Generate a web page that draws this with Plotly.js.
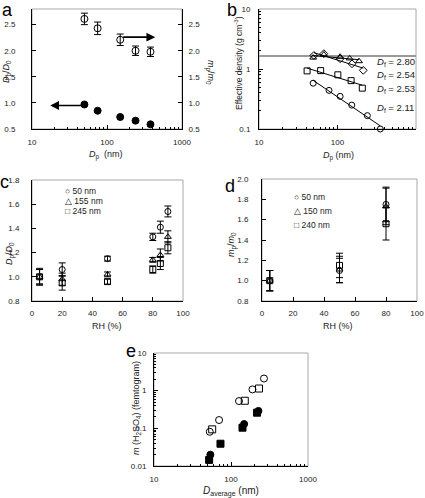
<!DOCTYPE html>
<html>
<head>
<meta charset="utf-8">
<script src="https://cdn.plot.ly/plotly-3.0.1.min.js"></script>
<style>
html,body{margin:0;padding:0;background:#fff;}
#chart{width:425px;height:498px;}
</style>
</head>
<body>
<div id="chart"></div>
<script>
// ---------- Panel a ----------
const aDp = [50, 75, 150, 240, 380];
const aDiamRatio = [0.97, 0.85, 0.73, 0.66, 0.59];
const aMassRatio = [2.61, 2.43, 2.21, 2.00, 1.98];
const aMassErr = [0.11, 0.12, 0.11, 0.09, 0.09];

// ---------- Panel b ----------
const bCircX = [49, 78, 108, 152, 240, 351];
const bCircY = [0.58, 0.44, 0.35, 0.25, 0.167, 0.10];
const bSqX = [41, 61, 101, 149, 207];
const bSqY = [0.93, 0.94, 0.80, 0.64, 0.48];
const bDiaX = [50, 67, 108, 153, 213];
const bDiaY = [1.68, 1.80, 1.48, 1.22, 0.95];
const bTriX = [49, 67, 108, 143, 188];
const bTriY = [1.55, 1.74, 1.60, 1.50, 1.35];
const bBulkDensity = 1.65;
const bDfLabels = ['2.80', '2.54', '2.53', '2.11'];

// ---------- Panel c ----------
const cRH = [5, 20, 50, 80, 85, 90];
const c50 = [1.00, 1.06, 1.15, 1.33, 1.41, 1.54];
const c50Err = [0.07, 0.055, 0.02, 0.03, 0.05, 0.045];
const c155 = [1.00, 0.98, 1.02, 1.14, 1.18, 1.33];
const c155Err = [0.06, 0.05, 0.02, 0.02, 0.05, 0.05];
const c245 = [1.00, 0.95, 0.96, 1.06, 1.11, 1.24];
const c245Err = [0.06, 0.06, 0.02, 0.03, 0.05, 0.05];
const cLegend = ['50 nm', '155 nm', '245 nm'];

// ---------- Panel d ----------
const dRH = [5, 50, 80];
const d50 = [1.00, 1.10, 1.75];
const d50Err = [0.10, 0.12, 0.17];
const d150 = [1.00, 1.11, 1.73];
const d150Err = [0.10, 0.13, 0.18];
const d240 = [1.00, 1.15, 1.56];
const d240Err = [0.10, 0.12, 0.16];
const dLegend = ['50 nm', '150 nm', '240 nm'];

// ---------- Panel e ----------
const eOpenCircX = [53, 70, 127, 190, 268];
const eOpenCircY = [0.081, 0.166, 0.53, 1.08, 2.10];
const eOpenSqX = [57, 151, 231];
const eOpenSqY = [0.094, 0.54, 1.14];
const eFillCircX = [54, 148, 227];
const eFillCircY = [0.020, 0.13, 0.29];
const eFillSqX = [52, 73, 141, 218];
const eFillSqY = [0.0145, 0.039, 0.104, 0.26];

// ---------- helpers ----------
const W = 425, H = 498;
const px = v => v / W;
const py = v => 1 - v / H;
const FONT = 'Liberation Sans, Arial, Helvetica, sans-serif';

function mk(x, y, xa, ya, symbol, size, err) {
  const t = {
    x: x, y: y, xaxis: xa, yaxis: ya, type: 'scatter', mode: 'markers',
    showlegend: false, cliponaxis: false,
    marker: {symbol: symbol, size: size, color: '#000', line: {color: '#000', width: 1}}
  };
  if (err) t.error_y = {type: 'data', array: err, color: '#000', thickness: 1, width: 3.5};
  return t;
}

function fitLine(xs, ys, xa, ya) {
  const lx = xs.map(Math.log10), ly = ys.map(Math.log10);
  const n = lx.length;
  const mx = lx.reduce((a, b) => a + b, 0) / n, my = ly.reduce((a, b) => a + b, 0) / n;
  let sxy = 0, sxx = 0;
  for (let i = 0; i < n; i++) { sxy += (lx[i] - mx) * (ly[i] - my); sxx += (lx[i] - mx) ** 2; }
  const s = sxy / sxx, c = my - s * mx;
  const x0 = Math.min(...xs), x1 = Math.max(...xs);
  return {
    x: [x0, x1], y: [Math.pow(10, c + s * Math.log10(x0)), Math.pow(10, c + s * Math.log10(x1))],
    xaxis: xa, yaxis: ya, type: 'scatter', mode: 'lines', showlegend: false,
    line: {color: '#000', width: 1}
  };
}

const traces = [
  // a
  mk(aDp, aDiamRatio, 'x', 'y', 'circle', 7),
  mk(aDp, aMassRatio, 'x', 'y2', 'circle-open', 7, aMassErr),
  // b
  fitLine(bCircX, bCircY, 'x2', 'y3'),
  fitLine(bSqX, bSqY, 'x2', 'y3'),
  fitLine(bDiaX, bDiaY, 'x2', 'y3'),
  fitLine(bTriX, bTriY, 'x2', 'y3'),
  mk(bCircX, bCircY, 'x2', 'y3', 'circle-open', 6),
  mk(bSqX, bSqY, 'x2', 'y3', 'square-open', 6),
  mk(bDiaX, bDiaY, 'x2', 'y3', 'diamond-open', 6),
  mk(bTriX, bTriY, 'x2', 'y3', 'triangle-up-open', 6),
  // c
  mk(cRH, c50, 'x3', 'y4', 'circle-open', 6, c50Err),
  mk(cRH, c155, 'x3', 'y4', 'triangle-up-open', 6, c155Err),
  mk(cRH, c245, 'x3', 'y4', 'square-open', 6, c245Err),
  // d
  mk(dRH, d50, 'x4', 'y5', 'circle-open', 6, d50Err),
  mk(dRH, d150, 'x4', 'y5', 'triangle-up-open', 6, d150Err),
  mk(dRH, d240, 'x4', 'y5', 'square-open', 6, d240Err),
  // e
  mk(eOpenCircX, eOpenCircY, 'x5', 'y6', 'circle-open', 7),
  mk(eOpenSqX, eOpenSqY, 'x5', 'y6', 'square-open', 7),
  mk(eFillCircX, eFillCircY, 'x5', 'y6', 'circle', 7),
  mk(eFillSqX, eFillSqY, 'x5', 'y6', 'square', 7)
];

function ax(extra) {
  return Object.assign({
    showline: true, linecolor: '#000', linewidth: 1, mirror: false,
    ticks: 'inside', ticklen: 4, tickcolor: '#000', tickwidth: 1,
    showgrid: false, zeroline: false, fixedrange: true,
    tickfont: {family: FONT, size: 8, color: '#222'}
  }, extra);
}
function minorVals(lo, hi) {
  const v = [];
  for (let k = lo; k < hi; k++) for (let d = 2; d <= 9; d++) v.push(d * Math.pow(10, k));
  return v;
}
const logMinor = (lo, hi) => ({tickmode: 'array', tickvals: minorVals(lo, hi), ticks: 'inside', ticklen: 2, tickcolor: '#000', showgrid: false});

const domA_y = [py(129), py(9)];
const domC_y = [py(301), py(180)];

const layout = {
  width: W, height: H,
  margin: {l: 0, r: 0, t: 0, b: 0},
  paper_bgcolor: '#fff', plot_bgcolor: '#fff',
  showlegend: false,
  font: {family: FONT, size: 9, color: '#222'},
  // a
  xaxis: ax({type: 'log', range: [1, 3], dtick: 1, domain: [px(32), px(182)], anchor: 'y', minor: logMinor(1, 3), ticklabelstandoff: 5}),
  yaxis: ax({range: [0.5, 2.8], dtick: 0.5, tickformat: '.1f', domain: domA_y, anchor: 'x', ticklabelstandoff: 14}),
  yaxis2: ax({range: [0.5, 2.8], dtick: 0.5, tickformat: '.1f', overlaying: 'y', side: 'right', anchor: 'x', ticklabelstandoff: 4}),
  // b
  xaxis2: ax({type: 'log', range: [1, 3], dtick: 1, domain: [px(259), px(416)], anchor: 'y3', minor: logMinor(1, 3), ticklabelstandoff: 5}),
  yaxis3: ax({type: 'log', range: [-1, 1], dtick: 1, domain: domA_y, anchor: 'x2', minor: logMinor(-1, 1), ticklabelstandoff: 6}),
  // c
  xaxis3: ax({range: [0, 100], dtick: 20, domain: [px(32), px(183)], anchor: 'y4', ticklabelstandoff: 4}),
  yaxis4: ax({range: [0.8, 1.8], dtick: 0.2, tickformat: '.1f', domain: domC_y, anchor: 'x3', ticklabelstandoff: 10}),
  // d
  xaxis4: ax({range: [0, 100], dtick: 20, domain: [px(262), px(417)], anchor: 'y5', ticklabelstandoff: 4}),
  yaxis5: ax({range: [0.8, 2.0], dtick: 0.2, tickformat: '.1f', domain: [py(301), py(179)], anchor: 'x4', ticklabelstandoff: 11}),
  // e
  xaxis5: ax({type: 'log', range: [1, 3], dtick: 1, domain: [px(154), px(308)], anchor: 'y6', minor: logMinor(1, 3), ticklabelstandoff: 5}),
  yaxis6: ax({type: 'log', range: [-2, 1], dtick: 1, domain: [py(466), py(353)], anchor: 'x5', minor: logMinor(-2, 1), ticklabelstandoff: 5}),
  shapes: [],
  annotations: []
};

// grey frame boxes
[['x', 'y'], ['x2', 'y3'], ['x3', 'y4'], ['x4', 'y5'], ['x5', 'y6']].forEach(([xa, ya]) => {
  layout.shapes.push({type: 'rect', xref: xa + ' domain', yref: ya + ' domain', x0: 0, x1: 1, y0: 0, y1: 1,
    line: {color: '#a8a8a8', width: 1}, layer: 'below'});
});
// bulk density line in b
layout.shapes.push({type: 'line', xref: 'x2 domain', yref: 'y3', x0: 0, x1: 1,
  y0: bBulkDensity, y1: bBulkDensity, line: {color: '#999', width: 2}, layer: 'below'});

function txt(text, x, y, opts) {
  layout.annotations.push(Object.assign({
    text: text, xref: 'paper', yref: 'paper', x: px(x), y: py(y),
    xanchor: 'center', yanchor: 'middle', showarrow: false,
    font: {family: FONT, size: 9, color: '#222'}
  }, opts || {}));
}

// panel letters
const letterFont = {family: FONT, size: 18, color: '#000'};
txt('a', 7, 10, {font: letterFont});
txt('b', 232, 10, {font: letterFont});
txt('c', 4.5, 182, {font: letterFont, borderpad: 0});
txt('d', 230, 186, {font: letterFont});
txt('e', 131, 351, {font: letterFont});

// axis titles
const DpD0 = '<i>D</i><sub>p</sub>/<i>D</i><sub>0</sub>';
const mpm0 = '<i>m</i><sub>p</sub>/<i>m</i><sub>0</sub>';
txt('<i>D</i><sub>p</sub>  (nm)', 106, 155);
txt(DpD0, 7, 72, {textangle: -90});
txt(mpm0, 210, 72, {textangle: 90});
txt('<i>D</i><sub>p</sub> (nm)', 338, 156);
txt('Effective density (g cm<sup>-3</sup>)', 238, 63, {textangle: -90, font: {family: FONT, size: 8.5, color: '#222'}});
txt(DpD0, 10, 254, {textangle: -90});
txt('RH (%)', 107, 326);
txt(mpm0, 232, 245, {textangle: -90});
txt('RH (%)', 338, 326);
txt('<i>m</i> (H<sub>2</sub>SO<sub>4</sub>) (femtogram)', 136, 408, {textangle: -90});
txt('<i>D</i><sub>average</sub> (nm)', 231, 491, {font: {family: FONT, size: 10, color: '#222'}});

// D_f labels in b
const dfY = [62, 75, 89, 108];
bDfLabels.forEach((v, i) => txt('<i>D</i><sub>f</sub> = ' + v, 375, dfY[i], {xanchor: 'left', font: {family: FONT, size: 9.5, color: '#222'}}));

// legends in c and d (glyph + label)
const glyphs = ['\u25CB', '\u25B3', '\u25A1'];
const cLegY = [191, 201, 211.5];
cLegend.forEach((s, i) => txt(glyphs[i] + ' ' + s, 63, cLegY[i], {xanchor: 'left', font: {family: FONT, size: 8.5, color: '#222'}}));
const dLegY = [197, 211, 225];
dLegend.forEach((s, i) => txt(glyphs[i] + ' ' + s, 292, dLegY[i], {xanchor: 'left', font: {family: FONT, size: 8.5, color: '#222'}}));

// arrows in a
layout.annotations.push({xref: 'x', yref: 'y2', axref: 'x', ayref: 'y2',
  x: Math.log10(440), y: 2.26, ax: Math.log10(157), ay: 2.26, text: '', showarrow: true,
  arrowhead: 2, arrowsize: 1.1, arrowwidth: 1.6, arrowcolor: '#000'});
layout.annotations.push({xref: 'x', yref: 'y', axref: 'x', ayref: 'y',
  x: Math.log10(17.5), y: 0.95, ax: Math.log10(47), ay: 0.95, text: '', showarrow: true,
  arrowhead: 2, arrowsize: 1.1, arrowwidth: 1.6, arrowcolor: '#000'});

Plotly.newPlot('chart', traces, layout, {staticPlot: true, displayModeBar: false});
</script>
</body>
</html>
